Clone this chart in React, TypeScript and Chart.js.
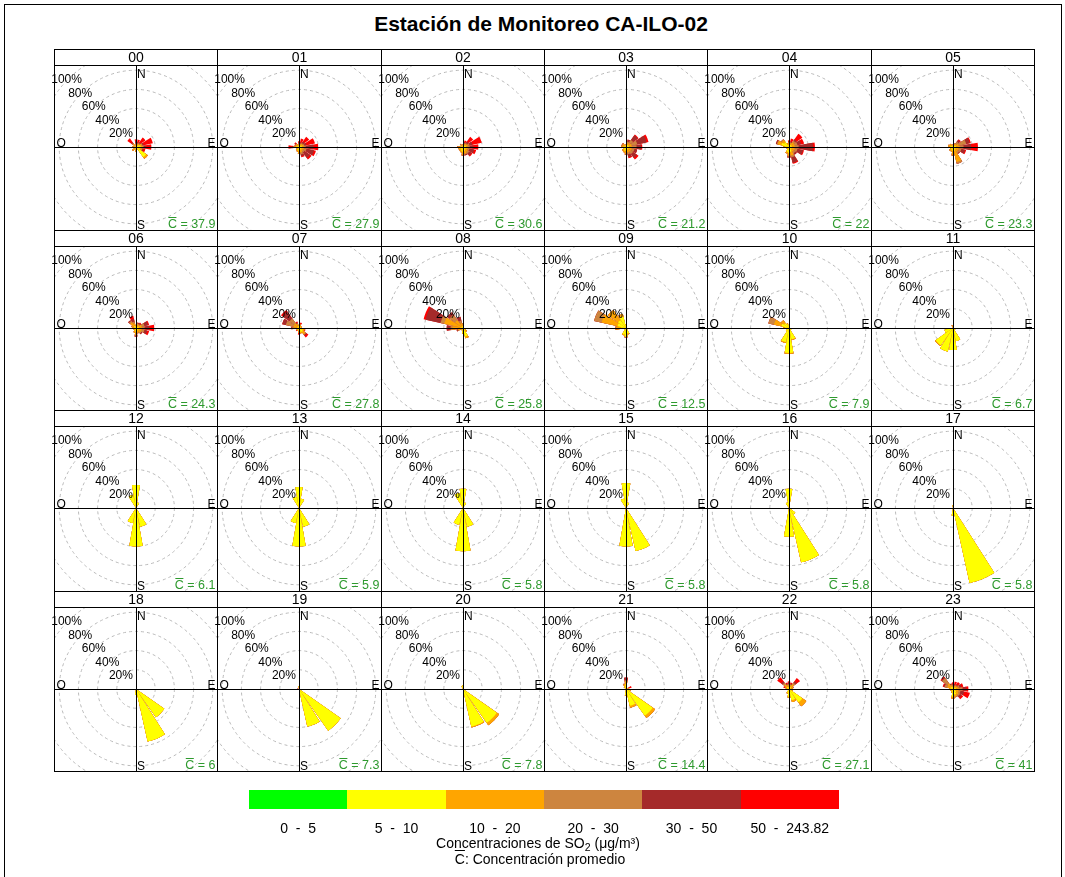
import React, { useEffect, useRef } from "react";
import { Chart, registerables } from "chart.js";

Chart.register(...registerables);

// ---------- data ----------
const title = "Estación de Monitoreo CA-ILO-02";
const hourLabels = ["00","01","02","03","04","05","06","07","08","09","10","11","12","13","14","15","16","17","18","19","20","21","22","23"];
const meanConc = ["37.9","27.9","30.6","21.2","22","23.3","24.3","27.8","25.8","12.5","7.9","6.7","6.1","5.9","5.8","5.8","5.8","5.8","6","7.3","7.8","14.4","27.1","41"];
const directions = ["N","NNE","NE","ENE","E","ESE","SE","SSE","S","SSW","SW","WSW","W","WNW","NW","NNW"];
const binLabels = ["0  -  5","5  -  10","10  -  20","20  -  30","30  -  50","50  -  243.82"];
const binColors = ["#00FF00","#FFFF00","#FFA500","#CD853F","#A52A2A","#FF0000"];
const percentTicks = [20, 40, 60, 80, 100];

// each entry: [direction, % in bin 0-5, 5-10, 10-20, 20-30, 30-50, 50-243.82]
type Wedge = [string, number, number, number, number, number, number];

const h00: Wedge[] = [["N",0,1,2,1,2,2],["NNE",0,2,1,1,1,3],["NE",0,2,2,1,1,6],["ENE",0,4,2,1,1,10],["E",0,5,2,1,2,6],["ESE",0,4,2,1,1,2],["SE",0,13,2,0,0,0],["S",0,3,2,0,0,0],["SW",0,2,3,0,0,0],["W",0,2,2,0,0,0],["NW",0,2,2,1,1,5]];
const h01: Wedge[] = [["N",0,2,1,1,1,1],["NNE",0,2,1,1,1,4],["NE",0,2,2,1,2,6],["ENE",0,3,2,1,2,9],["E",0,3,2,2,8,5],["ESE",0,3,2,3,8,2],["SE",0,3,2,2,7,2],["SSE",0,3,3,2,2,1],["S",0,4,3,0,0,0],["SSW",0,3,2,0,0,0],["SW",0,2,2,0,0,0],["WSW",0,2,1,0,0,0],["W",0,3,2,1,1,4],["WNW",0,2,2,0,0,1],["NW",0,2,2,0,1,1],["NNW",0,1,1,0,0,1]];
const h02: Wedge[] = [["N",0,2,1,0,0,0],["NNE",0,2,1,1,1,2],["NE",0,2,2,1,2,6],["ENE",0,3,2,2,3,10],["E",0,3,2,2,4,5],["ESE",0,3,2,2,5,2],["SE",0,3,3,2,3,1],["SSE",0,4,3,1,1,0],["S",0,5,3,1,0,0],["SSW",0,4,2,0,0,0],["SW",0,3,2,0,0,0],["WSW",0,3,2,0,0,0],["W",0,3,2,1,0,0],["NW",0,2,1,1,0,0]];
const h03: Wedge[] = [["N",0,2,1,0,0,0],["NNE",0,2,2,2,2,0],["NE",0,3,2,4,6,1],["ENE",0,3,3,6,10,2],["E",0,3,3,5,5,1],["ESE",0,3,3,3,3,0],["SE",0,3,3,3,5,2],["SSE",0,3,3,2,3,1],["S",0,4,3,1,0,0],["SSW",0,4,2,0,0,0],["SW",0,3,2,0,0,0],["W",0,3,2,0,0,0],["WNW",0,2,2,1,0,0],["NW",0,2,2,1,0,0]];
const h04: Wedge[] = [["N",0,2,2,1,1,1],["NNE",0,2,2,1,1,3],["NE",0,3,3,2,2,7],["ENE",0,3,3,3,4,3],["E",0,3,3,4,15,2],["ESE",0,3,3,3,6,1],["SE",0,3,3,2,2,0],["SSE",0,5,4,2,6,1],["S",0,6,3,1,1,0],["SSW",0,5,2,0,0,0],["SW",0,2,1,0,0,0],["WSW",0,2,1,0,0,0],["W",0,4,2,0,0,0],["WNW",0,8,4,1,1,0],["NW",0,6,3,1,0,0],["NNW",0,2,2,0,0,0]];
const h05: Wedge[] = [["N",0,2,1,0,0,0],["NNE",0,2,1,1,0,0],["NE",0,2,2,3,2,1],["ENE",0,3,3,8,4,1],["E",0,3,4,4,8,7],["ESE",0,3,3,3,4,1],["SE",0,3,3,2,1,0],["SSE",0,4,12,2,0,0],["S",0,4,4,1,0,0],["SSW",0,3,2,0,0,0],["SW",0,3,2,0,0,0],["WSW",0,2,1,0,0,0],["W",0,3,2,0,0,0],["WNW",0,3,2,0,0,0],["NW",0,2,2,0,0,0]];
const h06: Wedge[] = [["N",0,2,1,0,0,0],["NNE",0,2,2,1,1,0],["NE",0,2,2,1,1,1],["ENE",0,3,3,3,4,1],["E",0,3,3,3,5,5],["ESE",0,3,3,3,3,2],["SE",0,3,3,1,1,0],["SSE",0,3,2,1,0,0],["S",0,4,3,1,1,0],["SSW",0,3,2,0,0,0],["SW",0,2,1,0,0,0],["WSW",0,2,1,0,0,0],["W",0,2,2,0,0,0],["WNW",0,2,2,1,0,0],["NW",0,3,4,2,1,0],["NNW",0,2,3,2,3,3]];
const h07: Wedge[] = [["N",0,2,1,0,0,0],["NNE",0,2,2,0,0,2],["NE",0,2,1,0,0,0],["ENE",0,2,1,0,0,0],["E",0,2,1,0,0,0],["ESE",0,4,2,0,0,1],["SE",0,5,3,1,1,2],["SSE",0,4,2,0,0,0],["S",0,3,2,0,0,2],["SSW",0,2,1,0,0,0],["SW",0,2,1,0,0,1],["WSW",0,2,1,0,0,0],["W",0,2,3,2,1,0],["WNW",0,2,4,8,4,0],["NW",0,2,4,6,9,2],["NNW",0,2,2,1,1,1]];
const h08: Wedge[] = [["N",0,2,2,1,0,0],["NNE",0,1,1,0,0,0],["ESE",0,2,1,0,0,0],["SE",0,3,2,0,0,0],["SSE",0,9,2,0,0,0],["S",0,5,1,0,0,0],["SW",0,2,1,0,0,0],["WSW",0,2,3,1,1,0],["W",0,3,8,2,4,0],["WNW",0,2,18,4,16,2],["NW",0,2,8,7,3,0],["NNW",0,2,3,3,4,0]];
const h09: Wedge[] = [["N",0,3,1,0,0,0],["SE",0,2,0,0,0,0],["SSE",0,6,1,0,0,0],["S",0,9,0,0,1,0],["SSW",0,7,1,0,0,0],["SW",0,2,0,0,0,0],["W",0,5,5,1,0,0],["WNW",0,9,17,8,0,0],["NW",0,10,13,0,0,0],["NNW",0,12,3,0,0,0]];
const h10: Wedge[] = [["N",0,3,0,0,0,0],["SE",0,3,0,0,0,0],["SSE",0,12,1,0,0,0],["S",0,26,1,0,0,0],["SSW",0,15,1,0,0,0],["SW",0,4,0,0,0,0],["W",0,4,2,0,0,0],["WNW",0,8,8,6,0,0],["NW",0,6,4,0,0,0],["NNW",0,4,1,0,0,0]];
const h11: Wedge[] = [["N",0,1,2,0,0,0],["SE",0,3,0,0,0,0],["SSE",0,14,0,0,0,0],["S",0,23,0,0,0,0],["SSW",0,25,0,0,0,0],["SW",0,22,1,0,0,0],["WSW",0,9,0,0,0,0],["NNW",0,0,3,0,0,0]];
const h12: Wedge[] = [["N",0,24,0,0,0,0],["NNW",0,14,0,0,0,0],["NNE",0,6,0,0,0,0],["SSE",0,20,0,0,0,0],["S",0,40,0,0,0,0],["SSW",0,16,0,0,0,0]];
const h13: Wedge[] = [["N",0,22,0,0,0,0],["NNW",0,12,0,0,0,0],["NNE",0,10,0,0,0,0],["SSE",0,20,0,0,0,0],["S",0,40,0,0,0,0],["SSW",0,16,0,0,0,0]];
const h14: Wedge[] = [["N",0,20,0,0,0,0],["NNW",0,16,0,0,0,0],["NNE",0,6,0,0,0,0],["SSE",0,20,0,0,0,0],["S",0,45,0,0,0,0],["SSW",0,18,0,0,0,0]];
const h15: Wedge[] = [["N",0,26,0,0,0,0],["NNW",0,10,0,0,0,0],["NNE",0,6,0,0,0,0],["SSE",0,46,0,0,0,0],["S",0,40,0,0,0,0]];
const h16: Wedge[] = [["N",0,20,0,0,0,0],["NNW",0,6,0,0,0,0],["SE",0,8,0,0,0,0],["SSE",0,58,0,0,0,0],["S",0,30,0,0,0,0]];
const h17: Wedge[] = [["N",0,3,0,0,0,0],["SSE",0,80,0,0,0,0],["S",0,8,0,0,0,0]];
const h18: Wedge[] = [["SE",0,36,0,0,0,0],["SSE",0,56,0,0,0,0],["S",0,6,0,0,0,0]];
const h19: Wedge[] = [["N",0,3,0,0,0,0],["WNW",0,0,0,0,2,0],["SE",0,53,0,0,0,0],["SSE",0,40,0,0,0,0]];
const h20: Wedge[] = [["N",0,4,0,0,0,0],["NNW",0,3,0,0,0,0],["SE",0,43,3,0,0,0],["SSE",0,40,1,0,0,0]];
const h21: Wedge[] = [["N",0,5,3,1,3,0],["ENE",0,2,1,0,0,3],["ESE",0,4,1,0,0,0],["SE",0,34,3,0,0,0],["SSE",0,18,2,0,0,0],["S",0,6,1,0,0,0],["NW",0,2,1,0,0,0],["NNW",0,3,2,1,0,0]];
const h22: Wedge[] = [["N",0,2,2,1,2,1],["NNE",0,2,2,1,1,1],["NE",0,3,3,2,2,4],["ENE",0,2,2,1,0,0],["E",0,2,2,0,0,0],["ESE",0,3,1,0,0,0],["SE",0,17,5,0,0,0],["SSE",0,12,2,0,0,0],["S",0,8,1,0,0,0],["SSW",0,4,1,0,0,0],["W",0,2,1,0,0,0],["WNW",0,2,2,0,0,2],["NW",0,3,3,2,2,5],["NNW",0,2,2,1,1,1]];
const h23: Wedge[] = [["N",0,2,1,1,1,2],["NNE",0,2,1,1,1,3],["NE",0,2,2,1,1,3],["ENE",0,3,2,2,2,2],["E",0,3,3,4,4,2],["ESE",0,3,3,2,4,6],["SE",0,4,3,2,2,2],["SSE",0,6,2,1,0,0],["S",0,8,2,0,0,0],["SSW",0,3,1,0,0,0],["SW",0,2,1,0,0,0],["WSW",0,2,1,0,0,0],["W",0,2,2,0,0,0],["WNW",0,3,3,3,1,1],["NW",0,3,4,7,1,1],["NNW",0,2,2,1,1,0]];

const roses: Wedge[][] = [h00,h01,h02,h03,h04,h05,h06,h07,h08,h09,h10,h11,h12,h13,h14,h15,h16,h17,h18,h19,h20,h21,h22,h23];

// ---------- layout ----------
const colX = [54, 217, 381, 544, 707, 871, 1034];
const rowY = [49, 230, 410, 591, 771];
const HEADER = 16;
const HALF = 96; // canvas half size, radius of 100%
const WEDGE = 20; // degrees
const GAP = 22.5 - WEDGE;
const FONT = '"Liberation Sans", Arial, Helvetica, sans-serif';
const GREEN_TXT = "#2e9a2e";

function buildChartData(rose: Wedge[]) {
  const labels: string[] = [];
  const angles: number[] = [];
  directions.forEach((d) => {
    labels.push(d);
    angles.push(WEDGE);
    labels.push("");
    angles.push(GAP);
  });
  const datasets = binColors.map((color, k) => {
    const data = new Array(labels.length).fill(0);
    rose.forEach((w) => {
      const i = directions.indexOf(w[0]);
      let s = 0;
      for (let j = 1; j <= k + 1; j++) s += w[j] as number;
      data[2 * i] = s;
    });
    return {
      label: binLabels[k],
      data,
      backgroundColor: color,
      borderWidth: 0,
      angle: angles,
    };
  });
  return { labels, datasets };
}

function makePlugin(clip: { x: number; y: number; w: number; h: number }, mean: string) {
  return {
    id: "roseDecor",
    beforeDraw(chart: any) {
      const ctx = chart.ctx;
      ctx.save();
      ctx.beginPath();
      ctx.rect(clip.x, clip.y, clip.w, clip.h);
      ctx.clip();
    },
    afterDatasetsDraw(chart: any) {
      const ctx = chart.ctx;
      const r = chart.scales.r;
      const x = r.xCenter + 0.5;
      const y = r.yCenter + 0.5;
      ctx.save();
      ctx.strokeStyle = "#000";
      ctx.lineWidth = 1;
      ctx.beginPath();
      ctx.moveTo(0, y);
      ctx.lineTo(chart.width, y);
      ctx.moveTo(x, 0);
      ctx.lineTo(x, chart.height);
      ctx.stroke();
      ctx.restore();
      ctx.restore(); // end clip
    },
    afterDraw(chart: any) {
      const ctx = chart.ctx;
      const r = chart.scales.r;
      const cx = r.xCenter;
      const cy = r.yCenter;
      ctx.save();
      ctx.font = "12px " + FONT;
      ctx.fillStyle = "#000";
      ctx.textAlign = "center";
      ctx.textBaseline = "middle";
      percentTicks.forEach((v) => {
        const d = r.getDistanceFromCenterForValue(v) * Math.SQRT1_2;
        ctx.fillText(v + "%", cx - d - 1.5, cy - d + 0.5);
      });
      ctx.textBaseline = "alphabetic";
      ctx.textAlign = "left";
      ctx.fillText("N", cx + 1, clip.y + 11.5);
      ctx.fillText("S", cx + 1, clip.y + clip.h - 1.5);
      ctx.fillText("O", clip.x + 1.5, cy);
      ctx.textAlign = "right";
      ctx.fillText("E", clip.x + clip.w - 1.5, cy);
      // mean concentration
      ctx.font = "12.5px " + FONT;
      ctx.fillStyle = GREEN_TXT;
      const s = "C = " + mean;
      const xr = clip.x + clip.w - 1.5;
      const yb = clip.y + clip.h - 2;
      ctx.fillText(s, xr, yb);
      const w = ctx.measureText(s).width;
      const cw = ctx.measureText("C").width;
      ctx.strokeStyle = GREEN_TXT;
      ctx.lineWidth = 1;
      ctx.beginPath();
      ctx.moveTo(xr - w + 0.5, yb - 10.5);
      ctx.lineTo(xr - w + cw - 0.5, yb - 10.5);
      ctx.stroke();
      ctx.restore();
    },
  };
}

function RosePanel({ idx }: { idx: number }) {
  const ref = useRef<HTMLCanvasElement | null>(null);
  const c = idx % 6;
  const rr = Math.floor(idx / 6);
  const plotL = colX[c];
  const plotR = colX[c + 1];
  const plotT = rowY[rr] + HEADER;
  const plotB = rowY[rr + 1];
  const cx = Math.round((plotL + plotR) / 2);
  const cy = Math.floor((plotT + plotB) / 2);
  const left = cx - HALF;
  const top = cy - HALF;

  useEffect(() => {
    if (!ref.current) return;
    const clip = { x: plotL + 1 - left, y: plotT + 1 - top, w: plotR - plotL - 1, h: plotB - plotT - 1 };
    const chart = new Chart(ref.current, {
      type: "polarArea",
      data: buildChartData(roses[idx]) as any,
      options: {
        responsive: false,
        animation: false,
        events: [],
        layout: { padding: 0 },
        plugins: { legend: { display: false }, tooltip: { enabled: false }, title: { display: false } },
        scales: {
          r: {
            min: 0,
            max: 100,
            startAngle: -WEDGE / 2,
            ticks: { display: false, stepSize: 20 },
            grid: { circular: true, color: "#b9b9b9", lineWidth: 1 },
            border: { dash: [3, 3] },
            angleLines: { display: false },
            pointLabels: { display: false },
          },
        },
      } as any,
      plugins: [makePlugin(clip, meanConc[idx]) as any],
    });
    return () => chart.destroy();
  }, [idx]);

  return (
    <canvas
      ref={ref}
      width={HALF * 2}
      height={HALF * 2}
      style={{ position: "absolute", left, top, width: HALF * 2, height: HALF * 2 }}
    />
  );
}

function PanelFrame({ idx }: { idx: number }) {
  const c = idx % 6;
  const rr = Math.floor(idx / 6);
  const L = colX[c];
  const W = colX[c + 1] - colX[c] + 1;
  return (
    <>
      <div
        style={{
          position: "absolute",
          left: L,
          top: rowY[rr],
          width: W,
          height: HEADER + 1,
          boxSizing: "border-box",
          border: "1px solid #000",
          fontSize: 14,
          lineHeight: HEADER - 1 + "px",
          textAlign: "center",
          color: "#000",
        }}
      >
        {hourLabels[idx]}
      </div>
      <div
        style={{
          position: "absolute",
          left: L,
          top: rowY[rr] + HEADER,
          width: W,
          height: rowY[rr + 1] - rowY[rr] - HEADER + 1,
          boxSizing: "border-box",
          border: "1px solid #000",
        }}
      />
    </>
  );
}

export default function App() {
  const idxs = hourLabels.map((_, i) => i);
  const segW = (839 - 249) / binColors.length;
  return (
    <div
      style={{
        position: "relative",
        width: 1065,
        height: 877,
        overflow: "hidden",
        background: "#fff",
        fontFamily: FONT,
      }}
    >
      <style>{"body{margin:0;}"}</style>
      <div
        style={{
          position: "absolute",
          left: 4,
          top: 4,
          width: 1058,
          height: 900,
          border: "1px solid #000",
          boxSizing: "border-box",
        }}
      />
      <div
        style={{
          position: "absolute",
          left: 191,
          top: 11,
          width: 700,
          textAlign: "center",
          fontSize: 21,
          fontWeight: "bold",
          lineHeight: "26px",
        }}
      >
        {title}
      </div>
      {idxs.map((i) => (
        <RosePanel key={"r" + i} idx={i} />
      ))}
      {idxs.map((i) => (
        <PanelFrame key={"f" + i} idx={i} />
      ))}
      {binColors.map((col, k) => (
        <div
          key={"b" + k}
          style={{
            position: "absolute",
            left: 249 + k * segW,
            top: 790,
            width: segW + 0.5,
            height: 19,
            background: col,
          }}
        />
      ))}
      {binLabels.map((lab, k) => (
        <div
          key={"l" + k}
          style={{
            position: "absolute",
            left: 249 + k * segW - 20,
            top: 820,
            width: segW + 40,
            textAlign: "center",
            fontSize: 14,
            lineHeight: "17px",
            whiteSpace: "pre",
          }}
        >
          {lab}
        </div>
      ))}
      <div
        style={{
          position: "absolute",
          left: 338,
          top: 835,
          width: 400,
          textAlign: "center",
          fontSize: 14,
          lineHeight: "17px",
        }}
      >
        Concentraciones de SO<sub style={{ fontSize: 10.5, verticalAlign: "-3px", lineHeight: 0 }}>2</sub> (μg/m³)
      </div>
      <div
        style={{
          position: "absolute",
          left: 340,
          top: 851,
          width: 400,
          textAlign: "center",
          fontSize: 14,
          lineHeight: "17px",
        }}
      >
        <span style={{ textDecoration: "overline" }}>C</span>: Concentración promedio
      </div>
    </div>
  );
}
